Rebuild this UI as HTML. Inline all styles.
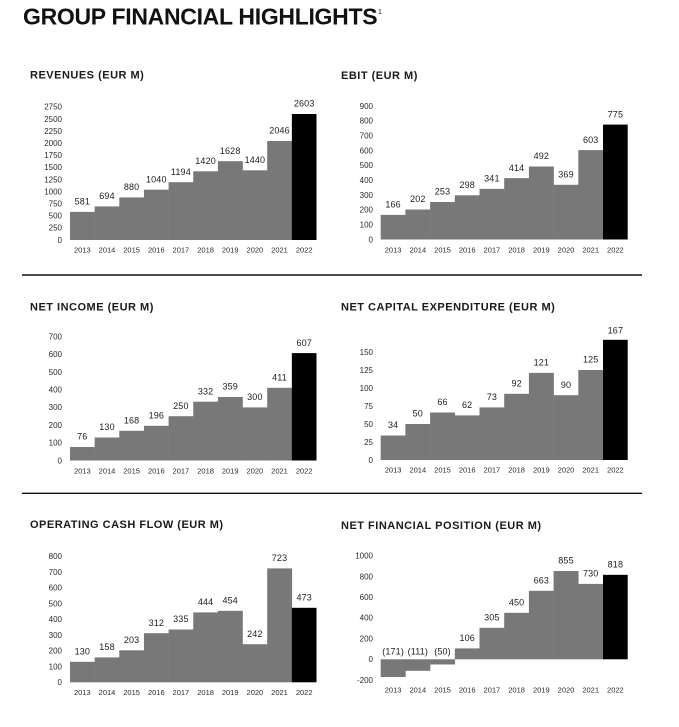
<!DOCTYPE html>
<html><head><meta charset="utf-8"><style>
html,body{margin:0;padding:0;background:#fff;}
svg{display:block;font-family:"Liberation Sans",sans-serif;}
.t{font-size:23px;font-weight:bold;fill:#111;letter-spacing:-0.3px;}
.h{font-size:11px;font-weight:bold;fill:#1a1a1a;letter-spacing:0.5px;}
.k{font-size:8px;fill:#2a2a2a;text-anchor:end;}
.y{font-size:7.5px;fill:#2a2a2a;text-anchor:middle;}
.v{font-size:9px;fill:#1e1e1e;text-anchor:middle;letter-spacing:0.15px;}
.g{fill:#787878;}
.b{fill:#000;}
</style></head><body>
<svg width="679" height="727" viewBox="0 0 679 727" xmlns="http://www.w3.org/2000/svg">
<text class="t" x="23" y="24.5">GROUP FINANCIAL HIGHLIGHTS</text>
<text x="378" y="14" style="font-size:7px;fill:#111">1</text>

<line x1="22" y1="275" x2="642" y2="275" stroke="#111" stroke-width="1.4"/>
<line x1="22" y1="493.3" x2="642" y2="493.3" stroke="#111" stroke-width="1.4"/>

<!-- REVENUES -->
<text class="h" x="30" y="78.6">REVENUES (EUR M)</text>
<g>
<text class="k" x="62" y="242.8">0</text>
<text class="k" x="62" y="230.7">250</text>
<text class="k" x="62" y="218.6">500</text>
<text class="k" x="62" y="206.5">750</text>
<text class="k" x="62" y="194.4">1000</text>
<text class="k" x="62" y="182.3">1250</text>
<text class="k" x="62" y="170.2">1500</text>
<text class="k" x="62" y="158.1">1750</text>
<text class="k" x="62" y="146">2000</text>
<text class="k" x="62" y="133.9">2250</text>
<text class="k" x="62" y="121.8">2500</text>
<text class="k" x="62" y="109.7">2750</text>
</g>
<rect class="g" x="70" y="211.9" width="24.9" height="28.1"/>
<rect class="g" x="94.65" y="206.4" width="24.9" height="33.6"/>
<rect class="g" x="119.3" y="197.4" width="24.9" height="42.6"/>
<rect class="g" x="143.95" y="189.7" width="24.9" height="50.3"/>
<rect class="g" x="168.6" y="182.2" width="24.9" height="57.8"/>
<rect class="g" x="193.25" y="171.3" width="24.9" height="68.7"/>
<rect class="g" x="217.9" y="161.2" width="24.9" height="78.8"/>
<rect class="g" x="242.55" y="170.3" width="24.9" height="69.7"/>
<rect class="g" x="267.2" y="141" width="24.9" height="99"/>
<rect class="b" x="291.85" y="114" width="24.65" height="126"/>
<text class="v" x="82.3" y="204.6">581</text>
<text class="v" x="107" y="199.1">694</text>
<text class="v" x="131.6" y="190.1">880</text>
<text class="v" x="156.3" y="182.4">1040</text>
<text class="v" x="180.9" y="174.9">1194</text>
<text class="v" x="205.6" y="164">1420</text>
<text class="v" x="230.2" y="153.9">1628</text>
<text class="v" x="254.9" y="163">1440</text>
<text class="v" x="279.5" y="133.7">2046</text>
<text class="v" x="304.2" y="106.7">2603</text>
<g>
<text class="y" x="82.3" y="252.7">2013</text>
<text class="y" x="107" y="252.7">2014</text>
<text class="y" x="131.6" y="252.7">2015</text>
<text class="y" x="156.3" y="252.7">2016</text>
<text class="y" x="180.9" y="252.7">2017</text>
<text class="y" x="205.6" y="252.7">2018</text>
<text class="y" x="230.2" y="252.7">2019</text>
<text class="y" x="254.9" y="252.7">2020</text>
<text class="y" x="279.5" y="252.7">2021</text>
<text class="y" x="304.2" y="252.7">2022</text>
</g>

<!-- EBIT -->
<text class="h" x="341" y="78.9">EBIT (EUR M)</text>
<g>
<text class="k" x="373" y="242.3">0</text>
<text class="k" x="373" y="227.5">100</text>
<text class="k" x="373" y="212.6">200</text>
<text class="k" x="373" y="197.8">300</text>
<text class="k" x="373" y="183">400</text>
<text class="k" x="373" y="168.2">500</text>
<text class="k" x="373" y="153.3">600</text>
<text class="k" x="373" y="138.5">700</text>
<text class="k" x="373" y="123.7">800</text>
<text class="k" x="373" y="108.8">900</text>
</g>
<rect class="g" x="380.7" y="214.9" width="24.95" height="24.6"/>
<rect class="g" x="405.4" y="209.5" width="24.95" height="30"/>
<rect class="g" x="430.1" y="202" width="24.95" height="37.5"/>
<rect class="g" x="454.8" y="195.3" width="24.95" height="44.2"/>
<rect class="g" x="479.5" y="188.9" width="24.95" height="50.6"/>
<rect class="g" x="504.2" y="178.1" width="24.95" height="61.4"/>
<rect class="g" x="528.9" y="166.5" width="24.95" height="73"/>
<rect class="g" x="553.6" y="184.8" width="24.95" height="54.7"/>
<rect class="g" x="578.3" y="150.1" width="24.95" height="89.4"/>
<rect class="b" x="603" y="124.6" width="24.7" height="114.9"/>
<text class="v" x="393.1" y="207.6">166</text>
<text class="v" x="417.8" y="202.2">202</text>
<text class="v" x="442.5" y="194.7">253</text>
<text class="v" x="467.2" y="188">298</text>
<text class="v" x="491.9" y="181.6">341</text>
<text class="v" x="516.6" y="170.8">414</text>
<text class="v" x="541.3" y="159.2">492</text>
<text class="v" x="566" y="177.5">369</text>
<text class="v" x="590.7" y="142.8">603</text>
<text class="v" x="615.4" y="117.3">775</text>
<g>
<text class="y" x="393.1" y="252.7">2013</text>
<text class="y" x="417.8" y="252.7">2014</text>
<text class="y" x="442.5" y="252.7">2015</text>
<text class="y" x="467.2" y="252.7">2016</text>
<text class="y" x="491.9" y="252.7">2017</text>
<text class="y" x="516.6" y="252.7">2018</text>
<text class="y" x="541.3" y="252.7">2019</text>
<text class="y" x="566" y="252.7">2020</text>
<text class="y" x="590.7" y="252.7">2021</text>
<text class="y" x="615.4" y="252.7">2022</text>
</g>

<!-- NET INCOME -->
<text class="h" x="30" y="310.6">NET INCOME (EUR M)</text>
<g>
<text class="k" x="62" y="463.3">0</text>
<text class="k" x="62" y="445.6">100</text>
<text class="k" x="62" y="427.9">200</text>
<text class="k" x="62" y="410.2">300</text>
<text class="k" x="62" y="392.5">400</text>
<text class="k" x="62" y="374.8">500</text>
<text class="k" x="62" y="357.1">600</text>
<text class="k" x="62" y="339.4">700</text>
</g>
<rect class="g" x="70" y="447" width="24.9" height="13.5"/>
<rect class="g" x="94.65" y="437.5" width="24.9" height="23"/>
<rect class="g" x="119.3" y="430.8" width="24.9" height="29.7"/>
<rect class="g" x="143.95" y="425.8" width="24.9" height="34.7"/>
<rect class="g" x="168.6" y="416.2" width="24.9" height="44.3"/>
<rect class="g" x="193.25" y="401.7" width="24.9" height="58.8"/>
<rect class="g" x="217.9" y="397" width="24.9" height="63.5"/>
<rect class="g" x="242.55" y="407.4" width="24.9" height="53.1"/>
<rect class="g" x="267.2" y="387.8" width="24.9" height="72.7"/>
<rect class="b" x="291.85" y="353.1" width="24.65" height="107.4"/>
<text class="v" x="82.3" y="439.7">76</text>
<text class="v" x="107" y="430.2">130</text>
<text class="v" x="131.6" y="423.5">168</text>
<text class="v" x="156.3" y="418.5">196</text>
<text class="v" x="180.9" y="408.9">250</text>
<text class="v" x="205.6" y="394.4">332</text>
<text class="v" x="230.2" y="389.7">359</text>
<text class="v" x="254.9" y="400.1">300</text>
<text class="v" x="279.5" y="380.5">411</text>
<text class="v" x="304.2" y="345.8">607</text>
<g>
<text class="y" x="82.3" y="473.4">2013</text>
<text class="y" x="107" y="473.4">2014</text>
<text class="y" x="131.6" y="473.4">2015</text>
<text class="y" x="156.3" y="473.4">2016</text>
<text class="y" x="180.9" y="473.4">2017</text>
<text class="y" x="205.6" y="473.4">2018</text>
<text class="y" x="230.2" y="473.4">2019</text>
<text class="y" x="254.9" y="473.4">2020</text>
<text class="y" x="279.5" y="473.4">2021</text>
<text class="y" x="304.2" y="473.4">2022</text>
</g>

<!-- CAPEX -->
<text class="h" x="341" y="310.6">NET CAPITAL EXPENDITURE (EUR M)</text>
<g>
<text class="k" x="373" y="462.8">0</text>
<text class="k" x="373" y="444.8">25</text>
<text class="k" x="373" y="426.8">50</text>
<text class="k" x="373" y="408.8">75</text>
<text class="k" x="373" y="390.8">100</text>
<text class="k" x="373" y="372.8">125</text>
<text class="k" x="373" y="354.8">150</text>
</g>
<rect class="g" x="380.7" y="435.5" width="24.95" height="24.5"/>
<rect class="g" x="405.4" y="424" width="24.95" height="36"/>
<rect class="g" x="430.1" y="412.5" width="24.95" height="47.5"/>
<rect class="g" x="454.8" y="415.4" width="24.95" height="44.6"/>
<rect class="g" x="479.5" y="407.4" width="24.95" height="52.6"/>
<rect class="g" x="504.2" y="393.8" width="24.95" height="66.2"/>
<rect class="g" x="528.9" y="372.9" width="24.95" height="87.1"/>
<rect class="g" x="553.6" y="395.2" width="24.95" height="64.8"/>
<rect class="g" x="578.3" y="370" width="24.95" height="90"/>
<rect class="b" x="603" y="339.8" width="24.7" height="120.2"/>
<text class="v" x="393.1" y="428.2">34</text>
<text class="v" x="417.8" y="416.7">50</text>
<text class="v" x="442.5" y="405.2">66</text>
<text class="v" x="467.2" y="408.1">62</text>
<text class="v" x="491.9" y="400.1">73</text>
<text class="v" x="516.6" y="386.5">92</text>
<text class="v" x="541.3" y="365.6">121</text>
<text class="v" x="566" y="387.9">90</text>
<text class="v" x="590.7" y="362.7">125</text>
<text class="v" x="615.4" y="333.7">167</text>
<g>
<text class="y" x="393.1" y="472.7">2013</text>
<text class="y" x="417.8" y="472.7">2014</text>
<text class="y" x="442.5" y="472.7">2015</text>
<text class="y" x="467.2" y="472.7">2016</text>
<text class="y" x="491.9" y="472.7">2017</text>
<text class="y" x="516.6" y="472.7">2018</text>
<text class="y" x="541.3" y="472.7">2019</text>
<text class="y" x="566" y="472.7">2020</text>
<text class="y" x="590.7" y="472.7">2021</text>
<text class="y" x="615.4" y="472.7">2022</text>
</g>

<!-- OCF -->
<text class="h" x="30" y="528.2">OPERATING CASH FLOW (EUR M)</text>
<g>
<text class="k" x="62" y="685.1">0</text>
<text class="k" x="62" y="669.4">100</text>
<text class="k" x="62" y="653.6">200</text>
<text class="k" x="62" y="637.9">300</text>
<text class="k" x="62" y="622.1">400</text>
<text class="k" x="62" y="606.4">500</text>
<text class="k" x="62" y="590.6">600</text>
<text class="k" x="62" y="574.9">700</text>
<text class="k" x="62" y="559.1">800</text>
</g>
<rect class="g" x="70" y="661.8" width="24.9" height="20.5"/>
<rect class="g" x="94.65" y="657.4" width="24.9" height="24.9"/>
<rect class="g" x="119.3" y="650.3" width="24.9" height="32"/>
<rect class="g" x="143.95" y="633.2" width="24.9" height="49.1"/>
<rect class="g" x="168.6" y="629.5" width="24.9" height="52.8"/>
<rect class="g" x="193.25" y="612.4" width="24.9" height="69.9"/>
<rect class="g" x="217.9" y="610.8" width="24.9" height="71.5"/>
<rect class="g" x="242.55" y="644.2" width="24.9" height="38.1"/>
<rect class="g" x="267.2" y="568.4" width="24.9" height="113.9"/>
<rect class="b" x="291.85" y="607.8" width="24.65" height="74.5"/>
<text class="v" x="82.3" y="654.5">130</text>
<text class="v" x="107" y="650.1">158</text>
<text class="v" x="131.6" y="643">203</text>
<text class="v" x="156.3" y="625.9">312</text>
<text class="v" x="180.9" y="622.2">335</text>
<text class="v" x="205.6" y="605.1">444</text>
<text class="v" x="230.2" y="603.5">454</text>
<text class="v" x="254.9" y="636.9">242</text>
<text class="v" x="279.5" y="561.1">723</text>
<text class="v" x="304.2" y="600.5">473</text>
<g>
<text class="y" x="82.3" y="695">2013</text>
<text class="y" x="107" y="695">2014</text>
<text class="y" x="131.6" y="695">2015</text>
<text class="y" x="156.3" y="695">2016</text>
<text class="y" x="180.9" y="695">2017</text>
<text class="y" x="205.6" y="695">2018</text>
<text class="y" x="230.2" y="695">2019</text>
<text class="y" x="254.9" y="695">2020</text>
<text class="y" x="279.5" y="695">2021</text>
<text class="y" x="304.2" y="695">2022</text>
</g>

<!-- NFP -->
<text class="h" x="341" y="528.9">NET FINANCIAL POSITION (EUR M)</text>
<g>
<text class="k" x="373" y="682.8">-200</text>
<text class="k" x="373" y="662.1">0</text>
<text class="k" x="373" y="641.4">200</text>
<text class="k" x="373" y="620.7">400</text>
<text class="k" x="373" y="600.1">600</text>
<text class="k" x="373" y="579.4">800</text>
<text class="k" x="373" y="558.7">1000</text>
</g>
<rect class="g" x="380.7" y="659.3" width="24.95" height="17.7"/>
<rect class="g" x="405.4" y="659.3" width="24.95" height="11.5"/>
<rect class="g" x="430.1" y="659.3" width="24.95" height="5.2"/>
<rect class="g" x="454.8" y="648.4" width="24.95" height="10.9"/>
<rect class="g" x="479.5" y="627.8" width="24.95" height="31.5"/>
<rect class="g" x="504.2" y="612.8" width="24.95" height="46.5"/>
<rect class="g" x="528.9" y="590.8" width="24.95" height="68.5"/>
<rect class="g" x="553.6" y="571" width="24.95" height="88.3"/>
<rect class="g" x="578.3" y="583.9" width="24.95" height="75.4"/>
<rect class="b" x="603" y="574.8" width="24.7" height="84.5"/>
<text class="v" x="393.1" y="654.7">(171)</text>
<text class="v" x="417.8" y="654.7">(111)</text>
<text class="v" x="442.5" y="654.7">(50)</text>
<text class="v" x="467.2" y="641.1">106</text>
<text class="v" x="491.9" y="620.5">305</text>
<text class="v" x="516.6" y="605.5">450</text>
<text class="v" x="541.3" y="583.5">663</text>
<text class="v" x="566" y="563.7">855</text>
<text class="v" x="590.7" y="576.6">730</text>
<text class="v" x="615.4" y="567.5">818</text>
<g>
<text class="y" x="393.1" y="692.7">2013</text>
<text class="y" x="417.8" y="692.7">2014</text>
<text class="y" x="442.5" y="692.7">2015</text>
<text class="y" x="467.2" y="692.7">2016</text>
<text class="y" x="491.9" y="692.7">2017</text>
<text class="y" x="516.6" y="692.7">2018</text>
<text class="y" x="541.3" y="692.7">2019</text>
<text class="y" x="566" y="692.7">2020</text>
<text class="y" x="590.7" y="692.7">2021</text>
<text class="y" x="615.4" y="692.7">2022</text>
</g>
</svg>
</body></html>
